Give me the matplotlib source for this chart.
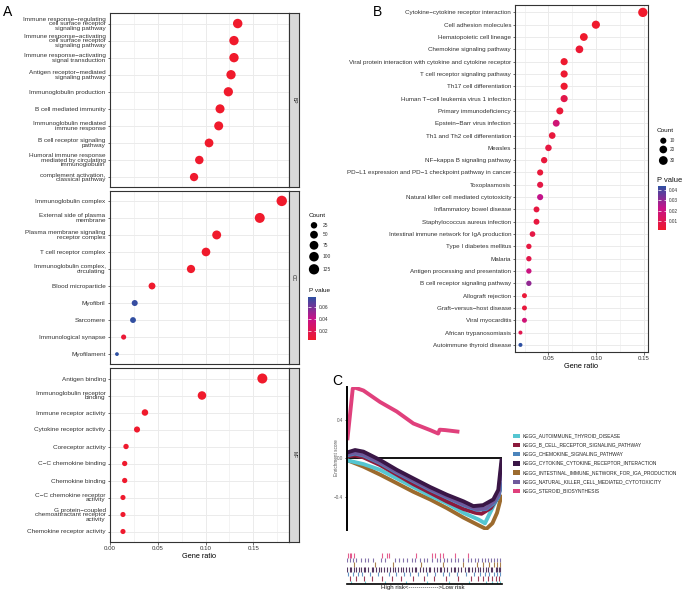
import numpy as np
import matplotlib
matplotlib.use('Agg')
import matplotlib.pyplot as plt
from matplotlib.colors import LinearSegmentedColormap, Normalize
from matplotlib.cm import ScalarMappable
from matplotlib.patches import Rectangle

plt.rcParams['font.family'] = ['Liberation Sans', 'DejaVu Sans']

# ---------------- DATA ----------------
bp_terms = ["Immune response\u2212regulating\ncell surface receptor\nsignaling pathway",
            "Immune response\u2212activating\ncell surface receptor\nsignaling pathway",
            "Immune response\u2212activating\nsignal transduction",
            "Antigen receptor\u2212mediated\nsignaling pathway",
            "Immunoglobulin production",
            "B cell mediated immunity",
            "Immunoglobulin mediated\nimmune response",
            "B cell receptor signaling\npathway",
            "Humoral immune response\nmediated by circulating\nimmunoglobulin",
            "complement activation,\nclassical pathway"]
bp_ratio = [0.1337, 0.1298, 0.1298, 0.1267, 0.1239, 0.1152, 0.1138, 0.1037, 0.0935, 0.0880]
bp_count = [96, 93, 93, 91, 89, 83, 82, 75, 67, 63]
bp_p = [0.005, 0.005, 0.005, 0.005, 0.005, 0.005, 0.005, 0.005, 0.006, 0.006]

cc_terms = ["Immunoglobulin complex",
            "External side of plasma\nmembrane",
            "Plasma membrane signaling\nreceptor complex",
            "T cell receptor complex",
            "Immunoglobulin complex,\ncirculating",
            "Blood microparticle",
            "Myofibril",
            "Sarcomere",
            "Immunological synapse",
            "Myofilament"]
cc_ratio = [0.1798, 0.1568, 0.1117, 0.1005, 0.0848, 0.0440, 0.0259, 0.0241, 0.0143, 0.0073]
cc_count = [129, 113, 80, 72, 61, 32, 19, 17, 10, 5]
cc_p = [0.005, 0.005, 0.005, 0.005, 0.005, 0.006, 0.075, 0.076, 0.009, 0.077]

mf_terms = ["Antigen binding",
            "Immunoglobulin receptor\nbinding",
            "Immune receptor activity",
            "Cytokine receptor activity",
            "Coreceptor activity",
            "C\u2212C chemokine binding",
            "Chemokine binding",
            "C\u2212C chemokine receptor\nactivity",
            "G protein\u2212coupled\nchemoattractant receptor\nactivity",
            "Chemokine receptor activity"]
mf_ratio = [0.1595, 0.0963, 0.0366, 0.0283, 0.0168, 0.0154, 0.0154, 0.0136, 0.0136, 0.0136]
mf_count = [115, 69, 26, 20, 12, 11, 11, 10, 10, 10]
mf_p = [0.005, 0.005, 0.005, 0.006, 0.006, 0.006, 0.006, 0.006, 0.006, 0.006]

go_count_breaks = [25, 50, 75, 100, 125]
go_p_ticks = [0.02, 0.04, 0.06]

kegg_terms = ["Cytokine\u2212cytokine receptor interaction",
              "Cell adhesion molecules",
              "Hematopoietic cell lineage",
              "Chemokine signaling pathway",
              "Viral protein interaction with cytokine and cytokine receptor",
              "T cell receptor signaling pathway",
              "Th17 cell differentiation",
              "Human T\u2212cell leukemia virus 1 infection",
              "Primary immunodeficiency",
              "Epstein\u2212Barr virus infection",
              "Th1 and Th2 cell differentiation",
              "Measles",
              "NF\u2212kappa B signaling pathway",
              "PD\u2212L1 expression and PD\u22121 checkpoint pathway in cancer",
              "Toxoplasmosis",
              "Natural killer cell mediated cytotoxicity",
              "Inflammatory bowel disease",
              "Staphylococcus aureus infection",
              "Intestinal immune network for IgA production",
              "Type I diabetes mellitus",
              "Malaria",
              "Antigen processing and presentation",
              "B cell receptor signaling pathway",
              "Allograft rejection",
              "Graft\u2212versus\u2212host disease",
              "Viral myocarditis",
              "African trypanosomiasis",
              "Autoimmune thyroid disease"]
kegg_ratio = [0.1487, 0.0996, 0.0870, 0.0824, 0.0664, 0.0664, 0.0664, 0.0664, 0.0619, 0.0581,
              0.0539, 0.0500, 0.0455, 0.0413, 0.0413, 0.0413, 0.0375, 0.0375, 0.0333, 0.0295,
              0.0295, 0.0295, 0.0295, 0.0249, 0.0249, 0.0249, 0.0207, 0.0207]
kegg_count = [36, 24, 21, 20, 16, 16, 16, 16, 15, 14, 13, 12, 11, 10, 10, 10, 9, 9, 8, 7,
              7, 7, 7, 6, 6, 6, 5, 5]
kegg_p = [0.0010, 0.0012, 0.0015, 0.0030, 0.0020, 0.0025, 0.0022, 0.0080, 0.0040, 0.0180,
          0.0050, 0.0060, 0.0050, 0.0045, 0.0070, 0.0230, 0.0060, 0.0055, 0.0070, 0.0060,
          0.0080, 0.0200, 0.0300, 0.0040, 0.0050, 0.0180, 0.0090, 0.0440]
kegg_count_breaks = [10, 20, 30]
kegg_p_ticks = [0.01, 0.02, 0.03, 0.04]

gsea_names = ["KEGG_AUTOIMMUNE_THYROID_DISEASE",
              "KEGG_B_CELL_RECEPTOR_SIGNALING_PATHWAY",
              "KEGG_CHEMOKINE_SIGNALING_PATHWAY",
              "KEGG_CYTOKINE_CYTOKINE_RECEPTOR_INTERACTION",
              "KEGG_INTESTINAL_IMMUNE_NETWORK_FOR_IGA_PRODUCTION",
              "KEGG_NATURAL_KILLER_CELL_MEDIATED_CYTOTOXICITY",
              "KEGG_STEROID_BIOSYNTHESIS"]
gsea_colors = ["#55C6D1", "#8C1A3C", "#4B84BC", "#3A1646", "#9C6B2E", "#6F5A9C", "#E0407C"]

# running enrichment score control points (rank fraction, ES)
es_thyroid_x = [0, 0.054, 0.108, 0.215, 0.323, 0.43, 0.538, 0.645, 0.753, 0.85, 0.892, 0.946, 0.978]
es_thyroid_y = [-0.02, -0.04, -0.06, -0.12, -0.21, -0.30, -0.39, -0.47, -0.57, -0.64, -0.68, -0.50, -0.40]
es_bcell_x = [0, 0.054, 0.108, 0.215, 0.323, 0.43, 0.538, 0.645, 0.753, 0.83, 0.87, 0.93, 0.97, 0.99]
es_bcell_y = [0.02, 0.03, 0.01, -0.07, -0.17, -0.27, -0.36, -0.45, -0.53, -0.57, -0.58, -0.52, -0.42, -0.32]
es_chemo_x = [0, 0.054, 0.108, 0.215, 0.323, 0.43, 0.538, 0.645, 0.753, 0.84, 0.9, 0.95, 0.98, 1.0]
es_chemo_y = [0.03, 0.05, 0.03, -0.05, -0.15, -0.24, -0.33, -0.41, -0.49, -0.54, -0.53, -0.47, -0.40, -0.25]
es_cyto_x = [0, 0.054, 0.108, 0.215, 0.323, 0.43, 0.538, 0.645, 0.753, 0.817, 0.88, 0.946, 0.978, 1.0]
es_cyto_y = [0.06, 0.087, 0.07, -0.017, -0.12, -0.21, -0.30, -0.38, -0.45, -0.50, -0.49, -0.43, -0.33, 0.0]
es_iga_x = [0, 0.108, 0.215, 0.323, 0.43, 0.538, 0.645, 0.753, 0.85, 0.90, 0.94, 0.97, 1.0]
es_iga_y = [-0.017, -0.087, -0.17, -0.26, -0.35, -0.43, -0.52, -0.62, -0.70, -0.74, -0.68, -0.57, -0.38]
es_nk_x = [0, 0.054, 0.108, 0.215, 0.323, 0.43, 0.538, 0.645, 0.753, 0.84, 0.9, 0.95, 0.98, 1.0]
es_nk_y = [0.04, 0.06, 0.04, -0.04, -0.14, -0.23, -0.32, -0.40, -0.48, -0.53, -0.52, -0.45, -0.38, -0.05]
es_steroid_x = [0.004, 0.039, 0.054, 0.108, 0.215, 0.323, 0.43, 0.538, 0.59, 0.60, 0.634, 0.727]
es_steroid_y = [0.19, 0.73, 0.74, 0.71, 0.59, 0.49, 0.365, 0.296, 0.26, 0.30, 0.296, 0.278]

# gene hit positions (percent of ranked list)
hits_steroid = [1, 2, 3, 5, 23, 26, 27, 45, 55, 57, 60, 62, 70, 78]
hits_nk = [0, 2, 4, 6, 9, 12, 14, 17, 22, 25, 31, 34, 36, 39, 42, 44, 47, 50, 52, 55, 58, 60,
           63, 65, 67, 70, 72, 75, 78, 80, 83, 85, 87, 89, 91, 93, 95, 97, 99]
hits_iga = [5, 18, 30, 48, 62, 75, 84, 88, 92, 95, 97, 99]
hits_cyto = [0, 2, 3, 5, 6, 8, 9, 11, 12, 14, 16, 17, 19, 21, 22, 24, 26, 28, 30, 31, 33, 35,
             36, 38, 40, 42, 44, 45, 47, 49, 51, 53, 54, 56, 58, 60, 61, 63, 65, 67, 69, 70,
             72, 74, 76, 78, 79, 81, 83, 85, 86, 88, 90, 91, 93, 94, 96, 97, 98, 99]
hits_chemo = [1, 4, 7, 10, 15, 20, 27, 32, 37, 41, 46, 52, 57, 62, 66, 71, 77, 82, 86, 89, 92, 95, 97, 99]
hits_bcell = [2, 6, 11, 16, 23, 29, 35, 43, 50, 56, 64, 72, 80, 85, 88, 91, 94, 96, 98]
hits_thyroid = [3, 12, 25, 38, 52, 66, 79, 90, 94, 97, 99]

# ---------------- STYLE ----------------
W, H = 685, 595
fig = plt.figure(figsize=(W / 100, H / 100), dpi=100)
fig.patch.set_facecolor('white')

def ax_px(x0, y0, x1, y1, **kw):
    return fig.add_axes([x0 / W, 1 - y1 / H, (x1 - x0) / W, (y1 - y0) / H], **kw)

cmap = LinearSegmentedColormap.from_list('pv', ['#F01A2C', '#C6128A', '#2E50A2'])
normA = Normalize(0.005, 0.077)
normB = Normalize(0.001, 0.044)

def pt2(d_px):
    return (d_px * 0.72) ** 2

def size_scale(c, cmin, cmax, dmin, dmax):
    c = np.asarray(c, float)
    return pt2(dmin + (dmax - dmin) * np.sqrt((c - cmin) / (cmax - cmin)))

A_CMIN, A_CMAX = 5, 129
B_CMIN, B_CMAX = 5, 36

GRID = '#EBEBEB'
SPINE = '#333333'
TXT = '#333333'

def style_dot_axes(ax, xlim, major, minor, lsize):
    ax.set_xlim(*xlim)
    ax.set_xticks(major)
    ax.set_xticks(minor, minor=True)
    ax.grid(True, which='major', color=GRID, lw=0.7, zorder=0)
    ax.grid(True, which='minor', axis='x', color=GRID, lw=0.4, zorder=0)
    ax.set_axisbelow(True)
    for s in ax.spines.values():
        s.set_color(SPINE)
        s.set_linewidth(0.8)
    ax.tick_params(axis='both', which='major', length=1.8, width=0.5, color=SPINE,
                   labelsize=lsize, labelcolor=TXT, pad=1)
    ax.tick_params(axis='x', which='major', labelsize=4.4)
    ax.tick_params(axis='x', which='minor', length=0)

# ---------------- PANEL A ----------------
facets = [(bp_terms, bp_ratio, bp_count, bp_p, 'BP', 13.3, 187.3),
          (cc_terms, cc_ratio, cc_count, cc_p, 'CC', 190.7, 364.3),
          (mf_terms, mf_ratio, mf_count, mf_p, 'MF', 368.3, 541.7)]
for i, (terms, ratio, count, pv, lab, y0, y1) in enumerate(facets):
    ax = ax_px(109.5, y0, 289, y1)
    n = len(terms)
    ypos = np.arange(n)
    ax.scatter(ratio, ypos, s=size_scale(count, A_CMIN, A_CMAX, 3.8, 10.4), c=pv,
               cmap=cmap, norm=normA, edgecolors='none', zorder=3)
    ax.set_ylim(n - 1 + 0.6, -0.6)
    style_dot_axes(ax, (-0.0005, 0.1874), [0, 0.05, 0.10, 0.15], [0.025, 0.075, 0.125, 0.175], 4.6)
    ax.set_yticks(ypos)
    ax.set_yticklabels(terms, linespacing=0.86)
    if i < 2:
        ax.set_xticklabels([])
        ax.tick_params(axis='x', length=0)
    else:
        ax.set_xticklabels(['0.00', '0.05', '0.10', '0.15'])
        ax.set_xlabel('Gene ratio', fontsize=5.3, labelpad=1.5)
    sax = ax_px(289, y0, 298.5, y1)
    sax.set_facecolor('#D9D9D9')
    sax.set_xticks([]); sax.set_yticks([])
    for s in sax.spines.values():
        s.set_color(SPINE); s.set_linewidth(0.8)
    sax.text(0.5, 0.5, lab, rotation=-90, ha='center', va='center', fontsize=3.6,
             color='#1A1A1A', transform=sax.transAxes)

# Panel A legend
lgA = ax_px(300, 200, 370, 345)
lgA.set_xlim(300, 370); lgA.set_ylim(345, 200); lgA.axis('off')
lgA.text(309, 215, 'Count', fontsize=4.6, ha='left', va='center', color='#111111')
leg_y = [225.3, 234.7, 245.3, 256.7, 269.3]
lgA.scatter([314] * len(go_count_breaks), leg_y,
            s=size_scale(go_count_breaks, A_CMIN, A_CMAX, 3.8, 10.4), c='black', edgecolors='none')
for v, yy in zip(go_count_breaks, leg_y):
    lgA.text(323, yy, str(v), fontsize=3.5, ha='left', va='center', color='#333333')
lgA.text(309, 290.7, 'P value', fontsize=4.6, ha='left', va='center', color='#111111')

caxA = ax_px(308, 297, 316, 340)
cbA = fig.colorbar(ScalarMappable(norm=normA, cmap=cmap), cax=caxA, ticks=go_p_ticks)
cbA.outline.set_visible(False)
caxA.tick_params(direction='in', color='white', length=1.8, width=0.5, left=True, right=True,
                 labelsize=3.5, labelcolor='#333333', pad=2)
cbA.set_ticklabels(['0.02', '0.04', '0.06'])

# ---------------- PANEL B ----------------
axB = ax_px(515, 5, 647.7, 352.3)
nB = len(kegg_terms)
yB = np.arange(nB)
axB.scatter(kegg_ratio, yB, s=size_scale(kegg_count, B_CMIN, B_CMAX, 4.0, 9.3), c=kegg_p,
            cmap=cmap, norm=normB, edgecolors='none', zorder=3)
axB.set_ylim(nB - 1 + 0.6, -0.6)
style_dot_axes(axB, (0.0150, 0.1538), [0.05, 0.10, 0.15], [0.025, 0.075, 0.125], 4.5)
axB.set_yticks(yB)
axB.set_yticklabels(kegg_terms)
axB.set_xticklabels(['0.05', '0.10', '0.15'])
axB.set_xlabel('Gene ratio', fontsize=5.3, labelpad=1.5)

lgB = ax_px(650, 120, 685, 240)
lgB.set_xlim(650, 685); lgB.set_ylim(240, 120); lgB.axis('off')
lgB.text(657, 130.7, 'Count', fontsize=4.6, ha='left', va='center', color='#111111')
legB_y = [140.7, 149.5, 160.5]
lgB.scatter([663.3] * 3, legB_y, s=size_scale(kegg_count_breaks, B_CMIN, B_CMAX, 4.0, 9.3),
            c='black', edgecolors='none')
for v, yy in zip(kegg_count_breaks, legB_y):
    lgB.text(670, yy, str(v), fontsize=3.4, ha='left', va='center', color='#333333')
lgB.text(656.5, 180.5, 'P value', fontsize=5.4, ha='left', va='center', color='#111111')

caxB = ax_px(657.7, 186, 666.3, 230)
cbB = fig.colorbar(ScalarMappable(norm=normB, cmap=cmap), cax=caxB, ticks=kegg_p_ticks)
cbB.outline.set_visible(False)
caxB.tick_params(direction='in', color='white', length=1.8, width=0.5, left=True, right=True,
                 labelsize=3.4, labelcolor='#333333', pad=2)
cbB.set_ticklabels(['0.01', '0.02', '0.03', '0.04'])

# ---------------- PANEL C ----------------
axC = ax_px(346.7, 386.7, 501.7, 530)
axC.set_xlim(0, 1)
axC.set_ylim(-0.75, 0.75)
for s in ['top', 'right', 'bottom']:
    axC.spines[s].set_visible(False)
axC.spines['left'].set_linewidth(1.4)
axC.spines['left'].set_color('black')
axC.set_xticks([])
axC.set_yticks([-0.4, 0.0, 0.4])
axC.set_yticklabels(['\u22120.4', '0.0', '0.4'])
axC.tick_params(axis='y', length=1.5, width=0.5, labelsize=3.3, labelcolor='#555555', pad=1)
axC.axhline(0, color='black', lw=1.3, zorder=1)
curves = [(es_iga_x, es_iga_y, 4), (es_thyroid_x, es_thyroid_y, 0), (es_bcell_x, es_bcell_y, 1),
          (es_chemo_x, es_chemo_y, 2), (es_nk_x, es_nk_y, 5), (es_cyto_x, es_cyto_y, 3),
          (es_steroid_x, es_steroid_y, 6)]
for xs, ys, ci in curves:
    axC.plot(xs, ys, color=gsea_colors[ci], lw=2.8, solid_joinstyle='round',
             solid_capstyle='butt', zorder=2)
fig.text(336 / W, 1 - 458 / H, 'Enrichment score', rotation=90, fontsize=3.3,
         ha='center', va='center', color='#555555')

# rug
axR = ax_px(346.7, 551, 501.7, 584)
axR.set_xlim(0, 100)
axR.set_ylim(7, 0)
for s in ['top', 'right', 'left']:
    axR.spines[s].set_visible(False)
axR.spines['bottom'].set_linewidth(1.2)
axR.spines['bottom'].set_color('black')
axR.set_xticks([]); axR.set_yticks([])
rug_rows = [(hits_steroid, 6), (hits_nk, 5), (hits_iga, 4), (hits_cyto, 3),
            (hits_chemo, 2), (hits_bcell, 1), (hits_thyroid, 0)]
for r, (hits, ci) in enumerate(rug_rows):
    axR.vlines(hits, r + 0.4, r + 1.4, color=gsea_colors[ci], lw=0.8, alpha=0.85)
fig.text(423 / W, 1 - 588 / H, 'High risk<--------------->Low risk', fontsize=4.4,
         ha='center', va='center', color='#111111')

# GSEA legend
lgC = ax_px(505, 428, 685, 496)
lgC.set_xlim(505, 685); lgC.set_ylim(496, 428); lgC.axis('off')
for i, (nm, col) in enumerate(zip(gsea_names, gsea_colors)):
    yy = 435.7 + 9.2 * i
    lgC.add_patch(Rectangle((513, yy - 2.2), 7, 4.4, facecolor=col, edgecolor='none'))
    lgC.text(522.5, yy, nm, fontsize=3.55, ha='left', va='center', color='#222222')

# panel letters
fig.text(3 / W, 1 - 12 / H, 'A', fontsize=10, ha='left', va='center')
fig.text(373 / W, 1 - 12 / H, 'B', fontsize=10, ha='left', va='center')
fig.text(332 / W, 1 - 381 / H, 'C', fontsize=10, ha='left', va='center')

fig.savefig('out.png', dpi=100)
